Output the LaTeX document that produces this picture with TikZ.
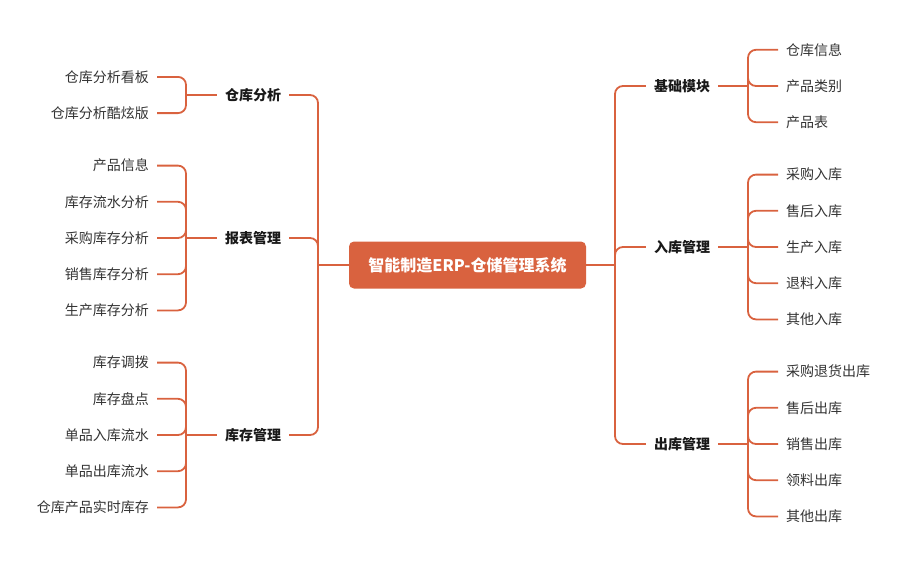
\documentclass[tikz,border=0pt]{standalone}
\usepackage{fontspec}
\setmainfont{Noto Sans CJK SC}
\usetikzlibrary{calc}
\definecolor{brick}{HTML}{D9623F}
\definecolor{leaftxt}{HTML}{333333}
\tikzset{
  branch/.style={draw=brick,line width=1.8pt,rounded corners=8pt},
  root/.style={fill=brick,text=white,rounded corners=5pt,minimum width=237pt,minimum height=47pt,font=\fontsize{16}{18}\selectfont\bfseries},
  cat/.style={inner xsep=8pt,text=black!90,font=\fontsize{14}{16}\selectfont\bfseries},
  leaf/.style={inner xsep=8pt,text=leaftxt,font=\fontsize{14}{16}\selectfont}
}
\begin{document}
\begin{tikzpicture}[x=1pt,y=-1pt]
\useasboundingbox (0,0) rectangle (910,565);
\node[root] (root) at (467.5,265) {智能制造ERP-仓储管理系统};
\coordinate (lj) at (318,265);
\coordinate (rj) at (615,265);
\draw[branch] (root.west) -- (lj);
\draw[branch] (root.east) -- (rj);
% first level
\node[cat] (ckfx) at (253,95) {仓库分析};
\node[cat] (bbgl) at (253,238) {报表管理};
\node[cat] (kcgl) at (253,435) {库存管理};
\node[cat] (jcmk) at (682,86) {基础模块};
\node[cat] (rkgl) at (682,247) {入库管理};
\node[cat] (ckgl) at (682,444) {出库管理};
\foreach \n in {ckfx,bbgl,kcgl}
\draw[branch] (lj) |- (\n.east);
\foreach \n in {jcmk,rkgl,ckgl}
\draw[branch] (rj) |- (\n.west);
% brackets
\coordinate (ckfx-j) at (186,95);
\coordinate (bbgl-j) at (186,238);
\coordinate (kcgl-j) at (186,435);
\coordinate (jcmk-j) at (748,86);
\coordinate (rkgl-j) at (748,247);
\coordinate (ckgl-j) at (748,444);
\foreach \n in {ckfx,bbgl,kcgl}
\draw[branch] (\n.west) -- (\n-j);
\foreach \n in {jcmk,rkgl,ckgl}
\draw[branch] (\n.east) -- (\n-j);
% leaves, left
\foreach \t [count=\i] in {仓库分析看板,仓库分析酷炫版}{
\node[leaf,anchor=east] (ckfx-\i) at (157,{95+(\i-1.5)*36.2}) {\t};
\draw[branch] (ckfx-j) |- (ckfx-\i.east);
}
\foreach \t [count=\i] in {产品信息,库存流水分析,采购库存分析,销售库存分析,生产库存分析}{
\node[leaf,anchor=east] (bbgl-\i) at (157,{238+(\i-3)*36.2}) {\t};
\draw[branch] (bbgl-j) |- (bbgl-\i.east);
}
\foreach \t [count=\i] in {库存调拨,库存盘点,单品入库流水,单品出库流水,仓库产品实时库存}{
\node[leaf,anchor=east] (kcgl-\i) at (157,{435+(\i-3)*36.2}) {\t};
\draw[branch] (kcgl-j) |- (kcgl-\i.east);
}
% leaves, right
\foreach \t [count=\i] in {仓库信息,产品类别,产品表}{
\node[leaf,anchor=west] (jcmk-\i) at (778,{86+(\i-2)*36.2}) {\t};
\draw[branch] (jcmk-j) |- (jcmk-\i.west);
}
\foreach \t [count=\i] in {采购入库,售后入库,生产入库,退料入库,其他入库}{
\node[leaf,anchor=west] (rkgl-\i) at (778,{247+(\i-3)*36.2}) {\t};
\draw[branch] (rkgl-j) |- (rkgl-\i.west);
}
\foreach \t [count=\i] in {采购退货出库,售后出库,销售出库,领料出库,其他出库}{
\node[leaf,anchor=west] (ckgl-\i) at (778,{444+(\i-3)*36.2}) {\t};
\draw[branch] (ckgl-j) |- (ckgl-\i.west);
}
\end{tikzpicture}
\end{document}
